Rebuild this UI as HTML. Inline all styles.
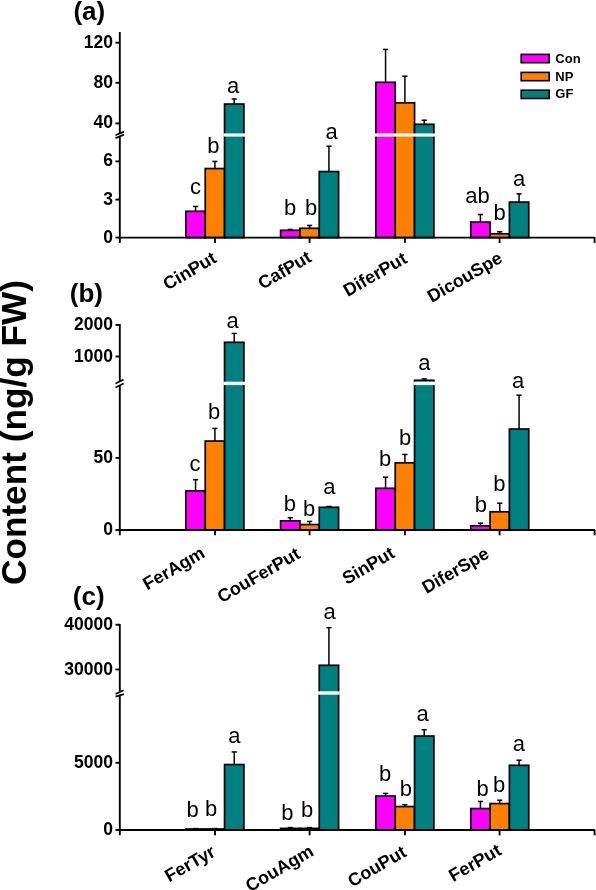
<!DOCTYPE html>
<html><head><meta charset="utf-8"><style>
html,body{margin:0;padding:0;background:#fff;width:596px;height:890px;overflow:hidden}
svg{display:block;will-change:transform}
text{font-family:"Liberation Sans", sans-serif}
.tk{font-size:17.5px;font-weight:bold}
.lt{font-size:22px}
.pl{font-size:26px;font-weight:bold}
.xl{font-size:18px;font-weight:bold}
.lg{font-size:13px;font-weight:bold}
.yl{font-size:35.2px;font-weight:bold}
</style></head><body>
<svg width="596" height="890" viewBox="0 0 596 890">
<line x1="195.57" y1="211.30" x2="195.57" y2="206.45" stroke="#000" stroke-width="1.5"/>
<line x1="192.97" y1="206.45" x2="198.17" y2="206.45" stroke="#000" stroke-width="1.5"/>
<rect x="185.91" y="211.30" width="19.33" height="26.30" fill="#ff00ff" stroke="#000" stroke-width="1.7"/>
<line x1="214.90" y1="168.55" x2="214.90" y2="161.45" stroke="#000" stroke-width="1.5"/>
<line x1="212.30" y1="161.45" x2="217.50" y2="161.45" stroke="#000" stroke-width="1.5"/>
<rect x="205.24" y="168.55" width="19.33" height="69.05" fill="#ff8000" stroke="#000" stroke-width="1.7"/>
<line x1="234.23" y1="104.05" x2="234.23" y2="98.95" stroke="#000" stroke-width="1.5"/>
<line x1="231.63" y1="98.95" x2="236.83" y2="98.95" stroke="#000" stroke-width="1.5"/>
<rect x="224.56" y="104.05" width="19.33" height="133.55" fill="#008080" stroke="#000" stroke-width="1.7"/>
<rect x="223.37" y="133.40" width="21.73" height="3.20" fill="#fff"/>
<line x1="290.27" y1="230.30" x2="290.27" y2="229.50" stroke="#000" stroke-width="1.5"/>
<line x1="287.67" y1="229.50" x2="292.87" y2="229.50" stroke="#000" stroke-width="1.5"/>
<rect x="280.61" y="230.30" width="19.33" height="7.30" fill="#ff00ff" stroke="#000" stroke-width="1.7"/>
<line x1="309.60" y1="228.30" x2="309.60" y2="225.45" stroke="#000" stroke-width="1.5"/>
<line x1="307.00" y1="225.45" x2="312.20" y2="225.45" stroke="#000" stroke-width="1.5"/>
<rect x="299.94" y="228.30" width="19.33" height="9.30" fill="#ff8000" stroke="#000" stroke-width="1.7"/>
<line x1="328.93" y1="171.55" x2="328.93" y2="146.20" stroke="#000" stroke-width="1.5"/>
<line x1="326.33" y1="146.20" x2="331.53" y2="146.20" stroke="#000" stroke-width="1.5"/>
<rect x="319.26" y="171.55" width="19.33" height="66.05" fill="#008080" stroke="#000" stroke-width="1.7"/>
<line x1="385.57" y1="82.30" x2="385.57" y2="49.45" stroke="#000" stroke-width="1.5"/>
<line x1="382.97" y1="49.45" x2="388.17" y2="49.45" stroke="#000" stroke-width="1.5"/>
<rect x="375.90" y="82.30" width="19.33" height="155.30" fill="#ff00ff" stroke="#000" stroke-width="1.7"/>
<rect x="374.70" y="133.40" width="21.73" height="3.20" fill="#fff"/>
<line x1="404.90" y1="102.80" x2="404.90" y2="76.20" stroke="#000" stroke-width="1.5"/>
<line x1="402.30" y1="76.20" x2="407.50" y2="76.20" stroke="#000" stroke-width="1.5"/>
<rect x="395.23" y="102.80" width="19.33" height="134.80" fill="#ff8000" stroke="#000" stroke-width="1.7"/>
<rect x="394.03" y="133.40" width="21.73" height="3.20" fill="#fff"/>
<line x1="424.23" y1="124.30" x2="424.23" y2="120.20" stroke="#000" stroke-width="1.5"/>
<line x1="421.63" y1="120.20" x2="426.83" y2="120.20" stroke="#000" stroke-width="1.5"/>
<rect x="414.56" y="124.30" width="19.33" height="113.30" fill="#008080" stroke="#000" stroke-width="1.7"/>
<rect x="413.36" y="133.40" width="21.73" height="3.20" fill="#fff"/>
<line x1="480.42" y1="222.10" x2="480.42" y2="214.50" stroke="#000" stroke-width="1.5"/>
<line x1="477.82" y1="214.50" x2="483.02" y2="214.50" stroke="#000" stroke-width="1.5"/>
<rect x="470.75" y="222.10" width="19.33" height="15.50" fill="#ff00ff" stroke="#000" stroke-width="1.7"/>
<line x1="499.75" y1="233.80" x2="499.75" y2="231.80" stroke="#000" stroke-width="1.5"/>
<line x1="497.15" y1="231.80" x2="502.35" y2="231.80" stroke="#000" stroke-width="1.5"/>
<rect x="490.08" y="233.80" width="19.33" height="3.80" fill="#ff8000" stroke="#000" stroke-width="1.7"/>
<line x1="519.08" y1="202.10" x2="519.08" y2="193.90" stroke="#000" stroke-width="1.5"/>
<line x1="516.48" y1="193.90" x2="521.68" y2="193.90" stroke="#000" stroke-width="1.5"/>
<rect x="509.41" y="202.10" width="19.33" height="35.50" fill="#008080" stroke="#000" stroke-width="1.7"/>
<line x1="119.8" y1="32" x2="119.8" y2="133.40" stroke="#000" stroke-width="1.9"/>
<line x1="119.8" y1="136.60" x2="119.8" y2="238.55" stroke="#000" stroke-width="1.9"/>
<line x1="115.5" y1="135.3" x2="124" y2="131.6" stroke="#000" stroke-width="1.7"/>
<line x1="115.5" y1="138.1" x2="124" y2="134.6" stroke="#000" stroke-width="1.7"/>
<line x1="118.85" y1="237.6" x2="595" y2="237.6" stroke="#000" stroke-width="1.9"/>
<line x1="119.8" y1="237.6" x2="119.8" y2="242.9" stroke="#000" stroke-width="1.9"/>
<line x1="215" y1="237.6" x2="215" y2="242.9" stroke="#000" stroke-width="1.9"/>
<line x1="309.6" y1="237.6" x2="309.6" y2="242.9" stroke="#000" stroke-width="1.9"/>
<line x1="404.9" y1="237.6" x2="404.9" y2="242.9" stroke="#000" stroke-width="1.9"/>
<line x1="499.6" y1="237.6" x2="499.6" y2="242.9" stroke="#000" stroke-width="1.9"/>
<line x1="594.6" y1="237.6" x2="594.6" y2="242.9" stroke="#000" stroke-width="1.9"/>
<line x1="115.5" y1="42.7" x2="119.8" y2="42.7" stroke="#000" stroke-width="1.9"/>
<text x="113" y="47.70" text-anchor="end" class="tk">120</text>
<line x1="115.5" y1="82.8" x2="119.8" y2="82.8" stroke="#000" stroke-width="1.9"/>
<text x="113" y="87.80" text-anchor="end" class="tk">80</text>
<line x1="115.5" y1="123.4" x2="119.8" y2="123.4" stroke="#000" stroke-width="1.9"/>
<text x="113" y="128.40" text-anchor="end" class="tk">40</text>
<line x1="115.5" y1="161.4" x2="119.8" y2="161.4" stroke="#000" stroke-width="1.9"/>
<text x="113" y="166.40" text-anchor="end" class="tk">6</text>
<line x1="115.5" y1="199.6" x2="119.8" y2="199.6" stroke="#000" stroke-width="1.9"/>
<text x="113" y="204.60" text-anchor="end" class="tk">3</text>
<line x1="115.5" y1="237.6" x2="119.8" y2="237.6" stroke="#000" stroke-width="1.9"/>
<text x="113" y="242.60" text-anchor="end" class="tk">0</text>
<text transform="translate(195.5 194.2) scale(1 1.04)" text-anchor="middle" class="lt">c</text>
<text transform="translate(213.4 152.5) scale(1 1.04)" text-anchor="middle" class="lt">b</text>
<text transform="translate(233 93.3) scale(1 1.04)" text-anchor="middle" class="lt">a</text>
<text transform="translate(290 215) scale(1 1.04)" text-anchor="middle" class="lt">b</text>
<text transform="translate(311 215) scale(1 1.04)" text-anchor="middle" class="lt">b</text>
<text transform="translate(331.6 138.7) scale(1 1.04)" text-anchor="middle" class="lt">a</text>
<text transform="translate(477.5 203.2) scale(1 1.04)" text-anchor="middle" class="lt">ab</text>
<text transform="translate(499.5 219.7) scale(1 1.04)" text-anchor="middle" class="lt">b</text>
<text transform="translate(519 186.2) scale(1 1.04)" text-anchor="middle" class="lt">a</text>
<text x="89.3" y="19.8" text-anchor="middle" class="pl">(a)</text>
<text x="217.80" y="261.45" text-anchor="end" class="xl" transform="rotate(-30 217.80 261.45)">CinPut</text>
<text x="312.75" y="260.80" text-anchor="end" class="xl" transform="rotate(-30 312.75 260.80)">CafPut</text>
<text x="408.35" y="261.90" text-anchor="end" class="xl" transform="rotate(-30 408.35 261.90)">DiferPut</text>
<text x="503.70" y="261.60" text-anchor="end" class="xl" transform="rotate(-30 503.70 261.60)">DicouSpe</text>
<line x1="195.57" y1="490.80" x2="195.57" y2="479.70" stroke="#000" stroke-width="1.5"/>
<line x1="192.97" y1="479.70" x2="198.17" y2="479.70" stroke="#000" stroke-width="1.5"/>
<rect x="185.91" y="490.80" width="19.33" height="39.20" fill="#ff00ff" stroke="#000" stroke-width="1.7"/>
<line x1="214.90" y1="441.05" x2="214.90" y2="428.45" stroke="#000" stroke-width="1.5"/>
<line x1="212.30" y1="428.45" x2="217.50" y2="428.45" stroke="#000" stroke-width="1.5"/>
<rect x="205.24" y="441.05" width="19.33" height="88.95" fill="#ff8000" stroke="#000" stroke-width="1.7"/>
<line x1="234.23" y1="342.30" x2="234.23" y2="333.45" stroke="#000" stroke-width="1.5"/>
<line x1="231.63" y1="333.45" x2="236.83" y2="333.45" stroke="#000" stroke-width="1.5"/>
<rect x="224.56" y="342.30" width="19.33" height="187.70" fill="#008080" stroke="#000" stroke-width="1.7"/>
<rect x="223.37" y="381.70" width="21.73" height="3.40" fill="#fff"/>
<line x1="290.27" y1="520.80" x2="290.27" y2="517.70" stroke="#000" stroke-width="1.5"/>
<line x1="287.67" y1="517.70" x2="292.87" y2="517.70" stroke="#000" stroke-width="1.5"/>
<rect x="280.61" y="520.80" width="19.33" height="9.20" fill="#ff00ff" stroke="#000" stroke-width="1.7"/>
<line x1="309.60" y1="524.55" x2="309.60" y2="521.45" stroke="#000" stroke-width="1.5"/>
<line x1="307.00" y1="521.45" x2="312.20" y2="521.45" stroke="#000" stroke-width="1.5"/>
<rect x="299.94" y="524.55" width="19.33" height="5.45" fill="#ff8000" stroke="#000" stroke-width="1.7"/>
<line x1="328.93" y1="507.30" x2="328.93" y2="506.45" stroke="#000" stroke-width="1.5"/>
<line x1="326.33" y1="506.45" x2="331.53" y2="506.45" stroke="#000" stroke-width="1.5"/>
<rect x="319.26" y="507.30" width="19.33" height="22.70" fill="#008080" stroke="#000" stroke-width="1.7"/>
<line x1="385.57" y1="488.30" x2="385.57" y2="477.20" stroke="#000" stroke-width="1.5"/>
<line x1="382.97" y1="477.20" x2="388.17" y2="477.20" stroke="#000" stroke-width="1.5"/>
<rect x="375.90" y="488.30" width="19.33" height="41.70" fill="#ff00ff" stroke="#000" stroke-width="1.7"/>
<line x1="404.90" y1="462.80" x2="404.90" y2="454.45" stroke="#000" stroke-width="1.5"/>
<line x1="402.30" y1="454.45" x2="407.50" y2="454.45" stroke="#000" stroke-width="1.5"/>
<rect x="395.23" y="462.80" width="19.33" height="67.20" fill="#ff8000" stroke="#000" stroke-width="1.7"/>
<line x1="424.23" y1="380.30" x2="424.23" y2="378.95" stroke="#000" stroke-width="1.5"/>
<line x1="421.63" y1="378.95" x2="426.83" y2="378.95" stroke="#000" stroke-width="1.5"/>
<rect x="414.56" y="380.30" width="19.33" height="149.70" fill="#008080" stroke="#000" stroke-width="1.7"/>
<rect x="413.36" y="381.70" width="21.73" height="3.40" fill="#fff"/>
<line x1="480.42" y1="525.80" x2="480.42" y2="523.20" stroke="#000" stroke-width="1.5"/>
<line x1="477.82" y1="523.20" x2="483.02" y2="523.20" stroke="#000" stroke-width="1.5"/>
<rect x="470.75" y="525.80" width="19.33" height="4.20" fill="#ff00ff" stroke="#000" stroke-width="1.7"/>
<line x1="499.75" y1="511.80" x2="499.75" y2="503.20" stroke="#000" stroke-width="1.5"/>
<line x1="497.15" y1="503.20" x2="502.35" y2="503.20" stroke="#000" stroke-width="1.5"/>
<rect x="490.08" y="511.80" width="19.33" height="18.20" fill="#ff8000" stroke="#000" stroke-width="1.7"/>
<line x1="519.08" y1="429.05" x2="519.08" y2="395.20" stroke="#000" stroke-width="1.5"/>
<line x1="516.48" y1="395.20" x2="521.68" y2="395.20" stroke="#000" stroke-width="1.5"/>
<rect x="509.41" y="429.05" width="19.33" height="100.95" fill="#008080" stroke="#000" stroke-width="1.7"/>
<line x1="119.8" y1="324.1" x2="119.8" y2="381.70" stroke="#000" stroke-width="1.9"/>
<line x1="119.8" y1="385.10" x2="119.8" y2="530.95" stroke="#000" stroke-width="1.9"/>
<line x1="115.6" y1="383.6" x2="123.6" y2="379.6" stroke="#000" stroke-width="1.7"/>
<line x1="115.6" y1="387.4" x2="123.6" y2="383.6" stroke="#000" stroke-width="1.7"/>
<line x1="118.85" y1="530" x2="595" y2="530" stroke="#000" stroke-width="1.9"/>
<line x1="119.8" y1="530" x2="119.8" y2="535.3" stroke="#000" stroke-width="1.9"/>
<line x1="215" y1="530" x2="215" y2="535.3" stroke="#000" stroke-width="1.9"/>
<line x1="309.6" y1="530" x2="309.6" y2="535.3" stroke="#000" stroke-width="1.9"/>
<line x1="404.9" y1="530" x2="404.9" y2="535.3" stroke="#000" stroke-width="1.9"/>
<line x1="499.6" y1="530" x2="499.6" y2="535.3" stroke="#000" stroke-width="1.9"/>
<line x1="594.6" y1="530" x2="594.6" y2="535.3" stroke="#000" stroke-width="1.9"/>
<line x1="115.5" y1="324.9" x2="119.8" y2="324.9" stroke="#000" stroke-width="1.9"/>
<text x="113" y="329.90" text-anchor="end" class="tk">2000</text>
<line x1="115.5" y1="356.5" x2="119.8" y2="356.5" stroke="#000" stroke-width="1.9"/>
<text x="113" y="361.50" text-anchor="end" class="tk">1000</text>
<line x1="115.5" y1="457.9" x2="119.8" y2="457.9" stroke="#000" stroke-width="1.9"/>
<text x="113" y="462.90" text-anchor="end" class="tk">50</text>
<line x1="115.5" y1="530" x2="119.8" y2="530" stroke="#000" stroke-width="1.9"/>
<text x="113" y="535.00" text-anchor="end" class="tk">0</text>
<text transform="translate(195 471.25) scale(1 1.04)" text-anchor="middle" class="lt">c</text>
<text transform="translate(214 418.75) scale(1 1.04)" text-anchor="middle" class="lt">b</text>
<text transform="translate(232.5 328) scale(1 1.04)" text-anchor="middle" class="lt">a</text>
<text transform="translate(289.9 511.3) scale(1 1.04)" text-anchor="middle" class="lt">b</text>
<text transform="translate(309.1 515.6) scale(1 1.04)" text-anchor="middle" class="lt">b</text>
<text transform="translate(329.4 493.5) scale(1 1.04)" text-anchor="middle" class="lt">a</text>
<text transform="translate(385.1 465.9) scale(1 1.04)" text-anchor="middle" class="lt">b</text>
<text transform="translate(405 444.7) scale(1 1.04)" text-anchor="middle" class="lt">b</text>
<text transform="translate(424.4 370) scale(1 1.04)" text-anchor="middle" class="lt">a</text>
<text transform="translate(480.9 512) scale(1 1.04)" text-anchor="middle" class="lt">b</text>
<text transform="translate(499.4 491.25) scale(1 1.04)" text-anchor="middle" class="lt">b</text>
<text transform="translate(518.1 388.25) scale(1 1.04)" text-anchor="middle" class="lt">a</text>
<text x="86.4" y="302" text-anchor="middle" class="pl">(b)</text>
<text x="206.15" y="556.45" text-anchor="end" class="xl" transform="rotate(-30 206.15 556.45)">FerAgm</text>
<text x="301.50" y="557.30" text-anchor="end" class="xl" transform="rotate(-30 301.50 557.30)">CouFerPut</text>
<text x="396.05" y="556.60" text-anchor="end" class="xl" transform="rotate(-30 396.05 556.60)">SinPut</text>
<text x="490.50" y="556.95" text-anchor="end" class="xl" transform="rotate(-30 490.50 556.95)">DiferSpe</text>
<line x1="195.57" y1="829.00" x2="195.57" y2="828.60" stroke="#000" stroke-width="1.5"/>
<line x1="192.97" y1="828.60" x2="198.17" y2="828.60" stroke="#000" stroke-width="1.5"/>
<rect x="185.91" y="829.00" width="19.33" height="1.00" fill="#ff00ff" stroke="#000" stroke-width="1.7"/>
<line x1="214.90" y1="829.00" x2="214.90" y2="828.60" stroke="#000" stroke-width="1.5"/>
<line x1="212.30" y1="828.60" x2="217.50" y2="828.60" stroke="#000" stroke-width="1.5"/>
<rect x="205.24" y="829.00" width="19.33" height="1.00" fill="#ff8000" stroke="#000" stroke-width="1.7"/>
<line x1="234.23" y1="764.55" x2="234.23" y2="751.95" stroke="#000" stroke-width="1.5"/>
<line x1="231.63" y1="751.95" x2="236.83" y2="751.95" stroke="#000" stroke-width="1.5"/>
<rect x="224.56" y="764.55" width="19.33" height="65.45" fill="#008080" stroke="#000" stroke-width="1.7"/>
<line x1="290.27" y1="828.40" x2="290.27" y2="827.60" stroke="#000" stroke-width="1.5"/>
<line x1="287.67" y1="827.60" x2="292.87" y2="827.60" stroke="#000" stroke-width="1.5"/>
<rect x="280.61" y="828.40" width="19.33" height="1.60" fill="#ff00ff" stroke="#000" stroke-width="1.7"/>
<line x1="309.60" y1="828.40" x2="309.60" y2="827.60" stroke="#000" stroke-width="1.5"/>
<line x1="307.00" y1="827.60" x2="312.20" y2="827.60" stroke="#000" stroke-width="1.5"/>
<rect x="299.94" y="828.40" width="19.33" height="1.60" fill="#ff8000" stroke="#000" stroke-width="1.7"/>
<line x1="328.93" y1="665.30" x2="328.93" y2="627.70" stroke="#000" stroke-width="1.5"/>
<line x1="326.33" y1="627.70" x2="331.53" y2="627.70" stroke="#000" stroke-width="1.5"/>
<rect x="319.26" y="665.30" width="19.33" height="164.70" fill="#008080" stroke="#000" stroke-width="1.7"/>
<rect x="318.06" y="691.30" width="21.73" height="3.40" fill="#fff"/>
<line x1="385.57" y1="796.05" x2="385.57" y2="793.45" stroke="#000" stroke-width="1.5"/>
<line x1="382.97" y1="793.45" x2="388.17" y2="793.45" stroke="#000" stroke-width="1.5"/>
<rect x="375.90" y="796.05" width="19.33" height="33.95" fill="#ff00ff" stroke="#000" stroke-width="1.7"/>
<line x1="404.90" y1="806.55" x2="404.90" y2="804.70" stroke="#000" stroke-width="1.5"/>
<line x1="402.30" y1="804.70" x2="407.50" y2="804.70" stroke="#000" stroke-width="1.5"/>
<rect x="395.23" y="806.55" width="19.33" height="23.45" fill="#ff8000" stroke="#000" stroke-width="1.7"/>
<line x1="424.23" y1="736.05" x2="424.23" y2="729.70" stroke="#000" stroke-width="1.5"/>
<line x1="421.63" y1="729.70" x2="426.83" y2="729.70" stroke="#000" stroke-width="1.5"/>
<rect x="414.56" y="736.05" width="19.33" height="93.95" fill="#008080" stroke="#000" stroke-width="1.7"/>
<line x1="480.42" y1="808.55" x2="480.42" y2="801.45" stroke="#000" stroke-width="1.5"/>
<line x1="477.82" y1="801.45" x2="483.02" y2="801.45" stroke="#000" stroke-width="1.5"/>
<rect x="470.75" y="808.55" width="19.33" height="21.45" fill="#ff00ff" stroke="#000" stroke-width="1.7"/>
<line x1="499.75" y1="803.55" x2="499.75" y2="800.20" stroke="#000" stroke-width="1.5"/>
<line x1="497.15" y1="800.20" x2="502.35" y2="800.20" stroke="#000" stroke-width="1.5"/>
<rect x="490.08" y="803.55" width="19.33" height="26.45" fill="#ff8000" stroke="#000" stroke-width="1.7"/>
<line x1="519.08" y1="765.30" x2="519.08" y2="760.20" stroke="#000" stroke-width="1.5"/>
<line x1="516.48" y1="760.20" x2="521.68" y2="760.20" stroke="#000" stroke-width="1.5"/>
<rect x="509.41" y="765.30" width="19.33" height="64.70" fill="#008080" stroke="#000" stroke-width="1.7"/>
<line x1="119.8" y1="624.0" x2="119.8" y2="691.30" stroke="#000" stroke-width="1.9"/>
<line x1="119.8" y1="694.70" x2="119.8" y2="830.95" stroke="#000" stroke-width="1.9"/>
<line x1="115.6" y1="694.1" x2="123.6" y2="690.3" stroke="#000" stroke-width="1.7"/>
<line x1="115.6" y1="696.6" x2="123.9" y2="694.1" stroke="#000" stroke-width="1.7"/>
<line x1="118.85" y1="830.0" x2="595" y2="830.0" stroke="#000" stroke-width="1.9"/>
<line x1="119.8" y1="830.0" x2="119.8" y2="835.3" stroke="#000" stroke-width="1.9"/>
<line x1="215" y1="830.0" x2="215" y2="835.3" stroke="#000" stroke-width="1.9"/>
<line x1="309.6" y1="830.0" x2="309.6" y2="835.3" stroke="#000" stroke-width="1.9"/>
<line x1="404.9" y1="830.0" x2="404.9" y2="835.3" stroke="#000" stroke-width="1.9"/>
<line x1="499.6" y1="830.0" x2="499.6" y2="835.3" stroke="#000" stroke-width="1.9"/>
<line x1="594.6" y1="830.0" x2="594.6" y2="835.3" stroke="#000" stroke-width="1.9"/>
<line x1="115.5" y1="624.7" x2="119.8" y2="624.7" stroke="#000" stroke-width="1.9"/>
<text x="113" y="629.70" text-anchor="end" class="tk">40000</text>
<line x1="115.5" y1="669.5" x2="119.8" y2="669.5" stroke="#000" stroke-width="1.9"/>
<text x="113" y="674.50" text-anchor="end" class="tk">30000</text>
<line x1="115.5" y1="762.8" x2="119.8" y2="762.8" stroke="#000" stroke-width="1.9"/>
<text x="113" y="767.80" text-anchor="end" class="tk">5000</text>
<line x1="115.5" y1="830.0" x2="119.8" y2="830.0" stroke="#000" stroke-width="1.9"/>
<text x="113" y="835.00" text-anchor="end" class="tk">0</text>
<text transform="translate(192.5 817) scale(1 1.04)" text-anchor="middle" class="lt">b</text>
<text transform="translate(211.1 815.5) scale(1 1.04)" text-anchor="middle" class="lt">b</text>
<text transform="translate(234.4 742.5) scale(1 1.04)" text-anchor="middle" class="lt">a</text>
<text transform="translate(287.4 819.8) scale(1 1.04)" text-anchor="middle" class="lt">b</text>
<text transform="translate(307.0 816.7) scale(1 1.04)" text-anchor="middle" class="lt">b</text>
<text transform="translate(329.5 618.75) scale(1 1.04)" text-anchor="middle" class="lt">a</text>
<text transform="translate(385.1 780.8) scale(1 1.04)" text-anchor="middle" class="lt">b</text>
<text transform="translate(405.9 795.6) scale(1 1.04)" text-anchor="middle" class="lt">b</text>
<text transform="translate(422.5 721) scale(1 1.04)" text-anchor="middle" class="lt">a</text>
<text transform="translate(482.7 796.2) scale(1 1.04)" text-anchor="middle" class="lt">b</text>
<text transform="translate(499.1 792) scale(1 1.04)" text-anchor="middle" class="lt">b</text>
<text transform="translate(518.9 751.25) scale(1 1.04)" text-anchor="middle" class="lt">a</text>
<text x="88.7" y="605" text-anchor="middle" class="pl">(c)</text>
<text x="216.70" y="855.20" text-anchor="end" class="xl" transform="rotate(-30 216.70 855.20)">FerTyr</text>
<text x="314.90" y="854.80" text-anchor="end" class="xl" transform="rotate(-30 314.90 854.80)">CouAgm</text>
<text x="407.65" y="855.60" text-anchor="end" class="xl" transform="rotate(-30 407.65 855.60)">CouPut</text>
<text x="502.60" y="853.75" text-anchor="end" class="xl" transform="rotate(-30 502.60 853.75)">FerPut</text>
<rect x="521.2" y="54.40" width="28" height="8.3" fill="#ff00ff" stroke="#000" stroke-width="1.6"/>
<text x="555.3" y="62.50" class="lg">Con</text>
<rect x="521.2" y="72.40" width="28" height="8.3" fill="#ff8000" stroke="#000" stroke-width="1.6"/>
<text x="555.3" y="80.50" class="lg">NP</text>
<rect x="521.2" y="90.20" width="28" height="8.3" fill="#008080" stroke="#000" stroke-width="1.6"/>
<text x="555.3" y="98.30" class="lg">GF</text>
<text x="26" y="585" class="yl" transform="rotate(-90 26 585)">Content (ng/g FW)</text>
</svg>
</body></html>
